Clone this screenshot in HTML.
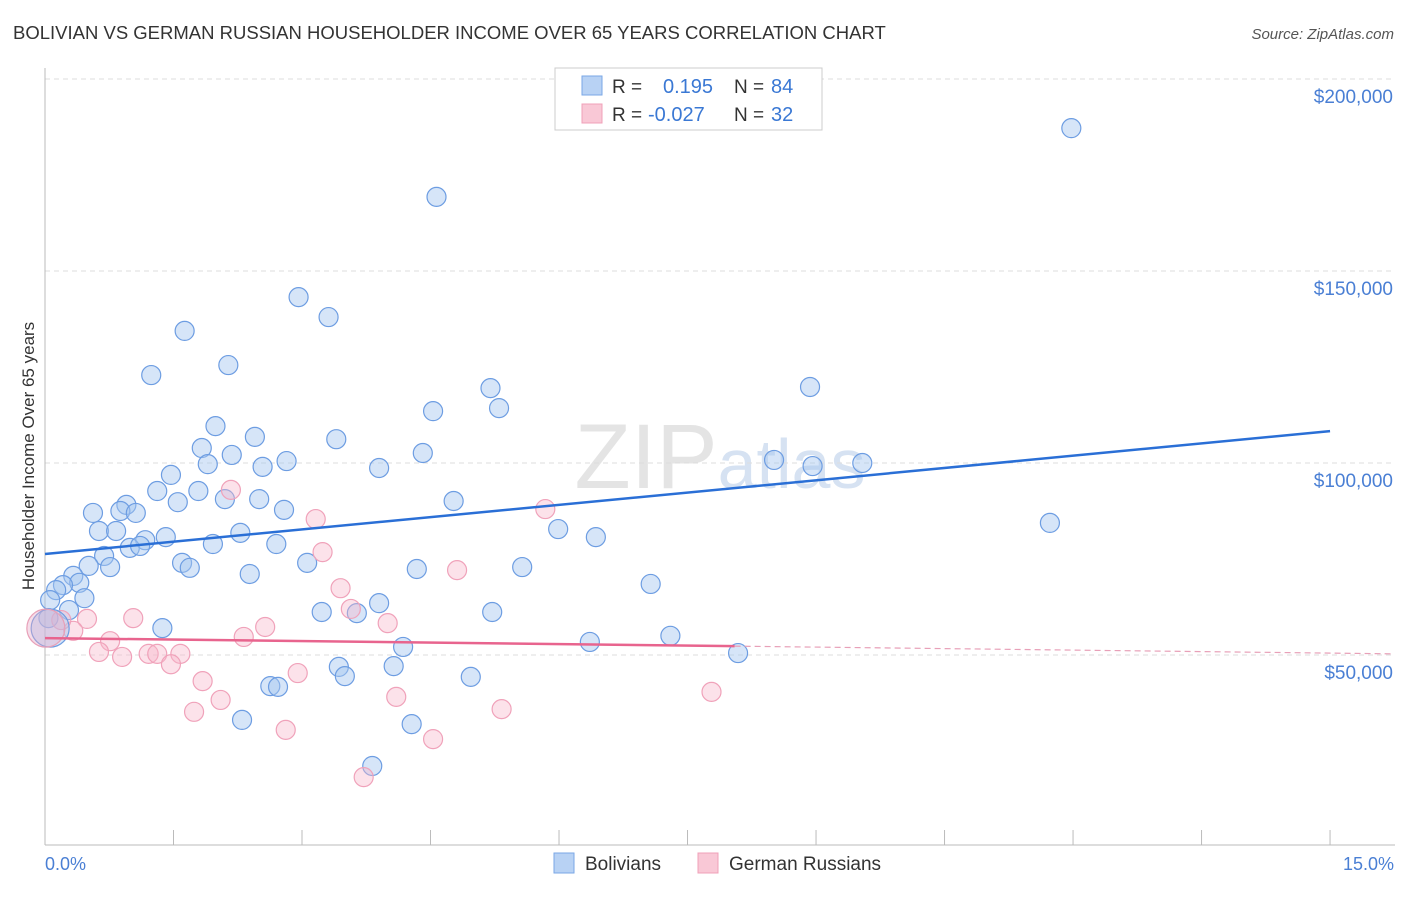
<!DOCTYPE html>
<html><head><meta charset="utf-8"><style>
body{margin:0;background:#fff;font-family:"Liberation Sans",sans-serif}
svg text{font-family:"Liberation Sans",sans-serif}
</style></head><body>
<svg id="chart" width="1406" height="892" xmlns="http://www.w3.org/2000/svg">
<text x="13" y="39" font-size="18.5" fill="#333">BOLIVIAN VS GERMAN RUSSIAN HOUSEHOLDER INCOME OVER 65 YEARS CORRELATION CHART</text>
<text x="1394" y="39" font-size="15" fill="#555" text-anchor="end" font-style="italic">Source: ZipAtlas.com</text>
<text x="720" y="488" font-size="92" fill="#e4e4e4" text-anchor="middle" font-family="Liberation Serif">ZIP<tspan fill="#d6e2f2" font-family="Liberation Sans" font-size="70">atlas</tspan></text>
<g id="grid"></g>
<g id="axes"></g>
<g id="pts"></g>
<g id="trend"></g>
<text transform="translate(34,456) rotate(-90)" font-size="17" fill="#333" text-anchor="middle">Householder Income Over 65 years</text>
<text x="45" y="870" font-size="18" fill="#4a7fd4">0.0%</text>
<text x="1394" y="870" font-size="18" fill="#4a7fd4" text-anchor="end">15.0%</text>
<g>
<rect x="555" y="68" width="267" height="62" fill="#fff" stroke="#ccc"/>
<rect x="582" y="76" width="20" height="19" fill="#b8d2f4" stroke="#7aa7e6"/>
<rect x="582" y="104" width="20" height="19" fill="#f9c8d6" stroke="#f0a0b8"/>
<text x="612" y="93" font-size="19" fill="#333">R =</text><text x="663" y="93" font-size="20" fill="#3a78d4">0.195</text>
<text x="734" y="93" font-size="19" fill="#333">N =</text><text x="771" y="93" font-size="20" fill="#3a78d4">84</text>
<text x="612" y="121" font-size="19" fill="#333">R =</text><text x="648" y="121" font-size="20" fill="#3a78d4">-0.027</text>
<text x="734" y="121" font-size="19" fill="#333">N =</text><text x="771" y="121" font-size="20" fill="#3a78d4">32</text>
</g>
<g>
<rect x="554" y="853" width="20" height="20" fill="#b8d2f4" stroke="#7aa7e6"/>
<text x="585" y="870" font-size="19" fill="#333">Bolivians</text>
<rect x="698" y="853" width="20" height="20" fill="#f9c8d6" stroke="#f0a0b8"/>
<text x="729" y="870" font-size="19" fill="#333">German Russians</text>
</g>
</svg>
<script>
const yTicks=[50000,100000,150000,200000];
const yTickLabels=["$50,000","$100,000","$150,000","$200,000"];
const blueX=[11.98,4.57,2.96,3.31,1.63,1.24,2.14,5.20,8.93,4.53,5.30,1.99,2.45,3.40,1.83,2.18,4.41,2.82,1.90,2.54,3.90,8.51,8.96,9.54,1.47,1.31,1.79,2.10,1.55,2.50,4.77,0.95,0.56,0.88,1.06,2.79,11.73,0.63,0.83,2.28,5.99,6.43,1.41,1.17,0.99,1.11,1.96,2.70,0.69,0.51,0.76,1.60,1.69,3.06,2.39,4.34,5.57,0.33,0.40,0.21,0.13,7.07,0.46,0.06,0.28,3.90,3.23,3.64,5.22,0.04,1.37,6.36,7.30,4.18,8.09,3.43,4.07,3.50,4.97,2.63,2.72,2.30,4.28,3.82];
const blueY=[187.2,169.3,143.2,138.0,134.4,122.9,125.5,119.5,119.8,113.5,114.3,109.6,106.8,106.2,103.9,102.1,102.6,100.5,99.7,99.0,98.7,100.8,99.2,100.0,96.9,92.7,92.7,90.6,89.8,90.6,90.1,89.1,87.0,87.5,87.0,87.8,84.4,82.3,82.3,81.8,82.8,80.7,80.7,79.9,77.9,78.4,78.9,78.9,75.8,73.2,72.9,74.0,72.7,74.0,71.1,72.4,72.9,70.6,68.8,68.2,66.9,68.5,64.8,64.3,61.7,63.5,61.2,60.9,61.2,59.6,57.0,53.4,55.0,52.1,50.5,46.9,47.1,44.5,44.3,41.9,41.7,33.1,32.0,21.1];
const pinkX=[5.84,2.17,3.16,3.24,3.45,4.81,1.03,0.49,0.33,2.57,3.57,4.00,0.76,2.32,0.63,0.90,1.21,1.31,1.58,1.47,1.84,2.95,2.05,4.10,7.78,1.74,5.33,2.81,4.53,3.72,0.19];
const pinkY=[88.0,93.0,85.4,76.8,67.4,72.1,59.6,59.4,56.3,57.3,62.0,58.3,53.6,54.7,50.8,49.5,50.3,50.3,50.3,47.6,43.2,45.3,38.3,39.1,40.4,35.2,35.9,30.5,28.1,18.2,59.1];
const bigX=[0.06,0.01];const bigY=[57.0,57.0];
const blueTrend=[76.3,108.3];const pinkTrend=[54.4,50.3];
const xs=v=>45+v*85.67;
const ys=k=>463-(k-100)*192/50;
const NS="http://www.w3.org/2000/svg";
function mk(t,a,p){const e=document.createElementNS(NS,t);for(const k in a)e.setAttribute(k,a[k]);p.appendChild(e);return e;}
const grid=document.getElementById('grid'),axes=document.getElementById('axes'),pts=document.getElementById('pts'),tr=document.getElementById('trend');
yTicks.forEach((t,i)=>{const y=ys(t/1000);
const l=mk('line',{x1:45,x2:1395,y1:y,y2:y,stroke:'#ddd','stroke-dasharray':'5,4'},grid);


const tx=mk('text',{x:1393,y:y+24,'font-size':19,fill:'#4a7fd4','text-anchor':'end'},grid);tx.textContent=yTickLabels[i];

});
const ax=mk('line',{x1:45,x2:45,y1:68,y2:845,stroke:'#bbb'},axes);


const bx=mk('line',{x1:45,x2:1395,y1:845,y2:845,stroke:'#bbb'},axes);


for(let i=1;i<=10;i++){const x=xs(i*1.5);const t=mk('line',{x1:x,x2:x,y1:830,y2:845,stroke:'#bbb'},axes);

}
blueX.forEach((v,i)=>{const c=mk('circle',{cx:xs(v),cy:ys(blueY[i]),r:9.5,fill:'rgba(164,198,240,0.45)',stroke:'#6d9de2','stroke-width':1.2},pts);

});
pinkX.forEach((v,i)=>{const c=mk('circle',{cx:xs(v),cy:ys(pinkY[i]),r:9.5,fill:'rgba(248,182,202,0.4)',stroke:'#f0a2ba','stroke-width':1.2},pts);

});
bigX.forEach((v,i)=>{const c=mk('circle',{cx:xs(v),cy:ys(bigY[i]),r:19,fill:i?'rgba(230,170,200,0.4)':'rgba(164,198,240,0.45)',stroke:i?'#e8a0b8':'#6d9de2','stroke-width':1.2},pts);

});
const bl=mk('line',{x1:xs(0),y1:ys(blueTrend[0]),x2:xs(15),y2:ys(blueTrend[1]),stroke:'#2a6fd6','stroke-width':2.5},tr);


const pk=p=>pinkTrend[0]+(pinkTrend[1]-pinkTrend[0])*p/15.75;
const pl=mk('line',{x1:xs(0),y1:ys(pk(0)),x2:xs(8.05),y2:ys(pk(8.05)),stroke:'#e8648e','stroke-width':2.5},tr);


const pd=mk('line',{x1:xs(8.05),y1:ys(pk(8.05)),x2:xs(15.75),y2:ys(pk(15.75)),stroke:'#e8a0b8','stroke-width':1.2,'stroke-dasharray':'6,4'},tr);


</script>
</body></html>
